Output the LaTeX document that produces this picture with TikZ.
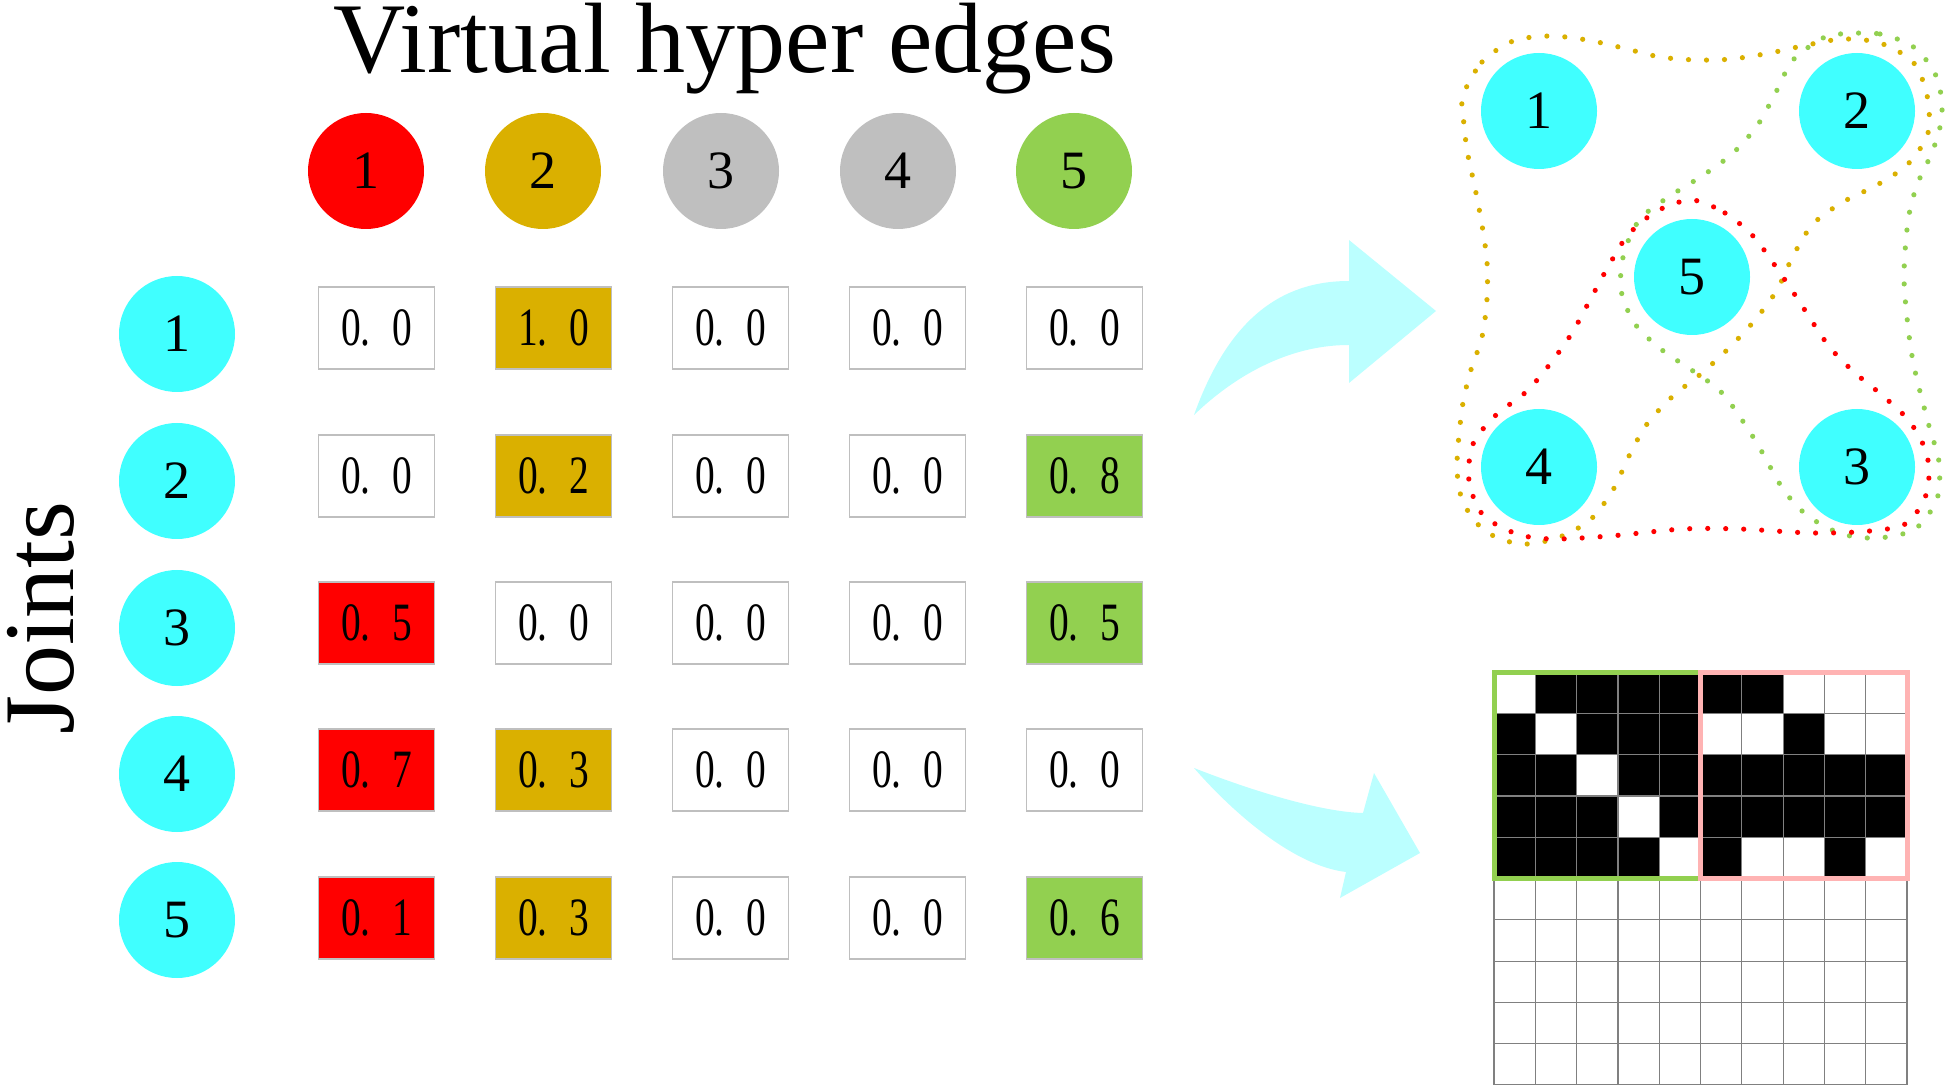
\documentclass[tikz,border=0pt]{standalone}
\usepackage{fontspec}
\setmainfont{Liberation Serif}
\usepackage{graphicx}
\definecolor{jointcyan}{RGB}{64,255,255}
\definecolor{edgered}{RGB}{255,0,0}
\definecolor{edgegold}{RGB}{218,176,0}
\definecolor{edgegray}{RGB}{191,191,191}
\definecolor{edgegreen}{RGB}{146,208,80}
\definecolor{boxgray}{RGB}{191,191,191}
\definecolor{arrowcyan}{RGB}{187,255,255}
\definecolor{gridpink}{RGB}{255,179,179}
\newcommand{\cellval}[2]{\scalebox{.73}[1]{#1.\hspace{.55em}#2}}
\tikzset{
  joint/.style={circle,fill=jointcyan,minimum size=58pt,inner sep=0pt,font=\fontsize{27}{27}\selectfont},
  edgenode/.style={circle,fill=#1,minimum size=58pt,inner sep=0pt,font=\fontsize{27}{27}\selectfont},
  cellbox/.style={draw=boxgray,fill=#1,line width=.7pt,minimum width=58pt,minimum height=41pt,inner sep=0pt,font=\fontsize{27}{27}\selectfont},
  biglabel/.style={font=\fontsize{50}{52}\selectfont,inner sep=0pt,anchor=base},
  hyperedge/.style={draw=#1,line width=2.6pt,line cap=round,dash pattern=on 0pt off 9pt},
  gridline/.style={draw=gray,line width=.6pt}
}
\begin{document}
\begin{tikzpicture}[x=.5pt,y=-.5pt]
\useasboundingbox (0,0) rectangle (1945,1085);
% labels
\node[biglabel] (title) at (725,73) {Virtual hyper edges};
\node[biglabel,rotate=90] (joints) at (73,618) {Joints};
% hyper edge nodes
\foreach \i/\x/\col in {1/366/edgered,2/543/edgegold,3/721/edgegray,4/898/edgegray,5/1074/edgegreen}
  \node[edgenode=\col] (e\i) at (\x,171) {\i};
% joint nodes
\foreach \i/\y in {1/334,2/481,3/628,4/774,5/920}
  \node[joint] (j\i) at (177,\y) {\i};
% weight matrix
\foreach \a/\b/\col [count=\c] in {0/0/white,1/0/edgegold,0/0/white,0/0/white,0/0/white}
  \node[cellbox=\col] (c1\c) at ({376.5+(\c-1)*177},328) {\cellval{\a}{\b}};
\foreach \a/\b/\col [count=\c] in {0/0/white,0/2/edgegold,0/0/white,0/0/white,0/8/edgegreen}
  \node[cellbox=\col] (c2\c) at ({376.5+(\c-1)*177},476) {\cellval{\a}{\b}};
\foreach \a/\b/\col [count=\c] in {0/5/edgered,0/0/white,0/0/white,0/0/white,0/5/edgegreen}
  \node[cellbox=\col] (c3\c) at ({376.5+(\c-1)*177},623) {\cellval{\a}{\b}};
\foreach \a/\b/\col [count=\c] in {0/7/edgered,0/3/edgegold,0/0/white,0/0/white,0/0/white}
  \node[cellbox=\col] (c4\c) at ({376.5+(\c-1)*177},770) {\cellval{\a}{\b}};
\foreach \a/\b/\col [count=\c] in {0/1/edgered,0/3/edgegold,0/0/white,0/0/white,0/6/edgegreen}
  \node[cellbox=\col] (c5\c) at ({376.5+(\c-1)*177},918) {\cellval{\a}{\b}};
% arrows
\fill[arrowcyan] (1194,415) .. controls (1228,320) and (1280,281) .. (1349,281) -- (1349,240) -- (1436,311)
  -- (1349,383) -- (1349,345) .. controls (1280,345) and (1225,385) .. (1194,415) -- cycle;
\fill[arrowcyan] (1194,768) .. controls (1250,790) and (1320,812) .. (1363,813) -- (1374,773) -- (1420,853)
  -- (1340,898) -- (1346,872) .. controls (1295,866) and (1235,815) .. (1194,768) -- cycle;
% hypergraph
\draw[hyperedge=edgegold] plot[smooth cycle,tension=.5] coordinates {(1463,95) (1482,62) (1513,41) (1550,36)
  (1587,40) (1623,48) (1660,57) (1697,60) (1732,59) (1770,53) (1807,45) (1843,39) (1880,43) (1913,62)
  (1927,95) (1928,133) (1908,164) (1877,185) (1843,202) (1813,224) (1793,256) (1777,290) (1755,320)
  (1730,347) (1702,373) (1673,396) (1647,424) (1629,456) (1613,490) (1590,520) (1557,538) (1520,544)
  (1485,531) (1463,502) (1457,466) (1462,409) (1470,373) (1482,337) (1487,299) (1487,262) (1482,225)
  (1475,188) (1467,150) (1463,114)};
\draw[hyperedge=edgegreen] plot[smooth cycle,tension=.5] coordinates {(1840,34) (1880,34) (1915,48)
  (1937,78) (1942,115) (1933,150) (1917,185) (1908,221) (1904,278) (1909,335) (1915,371) (1929,426)
  (1939,462) (1937,499) (1915,529) (1878,538) (1842,534) (1808,516) (1783,489) (1755,440) (1723,394)
  (1693,371) (1662,350) (1635,324) (1621,290) (1624,253) (1640,219) (1670,196) (1702,176) (1732,154)
  (1757,126) (1775,94) (1793,60) (1823,38)};
\draw[hyperedge=edgered] plot[smooth cycle,tension=.5] coordinates {(1692,200) (1725,213) (1753,236)
  (1776,267) (1797,298) (1828,345) (1854,372) (1883,396) (1910,422) (1927,455) (1927,492) (1907,523)
  (1870,531) (1813,533) (1740,529) (1683,529) (1610,536) (1553,539) (1517,534) (1483,515) (1469,481)
  (1473,444) (1496,415) (1526,392) (1550,364) (1572,333) (1590,300) (1608,267) (1628,235) (1657,211)};
\node[joint] (h1) at (1539,111) {1};
\node[joint] (h2) at (1857,111) {2};
\node[joint] (h5) at (1692,277) {5};
\node[joint] (h4) at (1539,467) {4};
\node[joint] (h3) at (1857,467) {3};
% adjacency image
\foreach \row [count=\r from 0] in {{0,1,1,1,1,1,1,0,0,0},{1,0,1,1,1,0,0,1,0,0},{1,1,0,1,1,1,1,1,1,1},
                                     {1,1,1,0,1,1,1,1,1,1},{1,1,1,1,0,1,0,0,1,0}}
  \foreach \b [count=\c from 0] in \row {
    \ifnum\b=1 \fill[black] ({1494+\c*41.3},{672+\r*41.3}) rectangle ++(41.3,41.3); \fi
  }
\foreach \i in {0,...,10} {
  \draw[gridline] ({1494+\i*41.3},672) -- ({1494+\i*41.3},1085);
  \draw[gridline] (1494,{672+\i*41.3}) -- (1907,{672+\i*41.3});
}
\draw[edgegreen,line width=2.5pt] (1494,672) rectangle (1700.5,878.5);
\draw[gridpink,line width=2.5pt] (1700.5,672) rectangle (1907,878.5);
\end{tikzpicture}
\end{document}
